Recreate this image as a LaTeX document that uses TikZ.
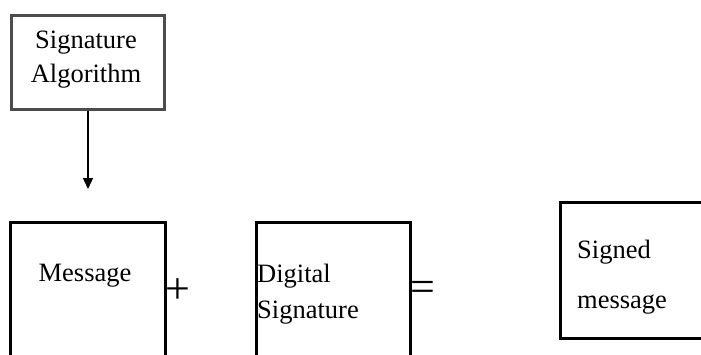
\documentclass[tikz,border=0pt]{standalone}
\usepackage{fontspec}
\setmainfont{Liberation Serif}
\usetikzlibrary{arrows.meta}
\begin{document}
\begin{tikzpicture}[x=1pt,y=-1pt,
  lbl/.style={inner sep=0pt,anchor=base west,font=\fontsize{26.5}{30}\selectfont},
  op/.style={inner sep=0pt,font=\fontsize{44}{46}\selectfont},
  box/.style={draw=black,line width=3pt},
  algbox/.style={draw=gray!60!black,line width=2.5pt}]
\useasboundingbox (0,0) rectangle (701,354);
\clip (0,0) rectangle (701,354);
% top box
\node[algbox,minimum width=153pt,minimum height=94pt,inner sep=0pt,anchor=north west] (alg) at (10,14) {};
\node[lbl,anchor=base] (t1) at (86,48) {Signature};
\node[lbl,anchor=base] (t2) at (86,82) {Algorithm};
\coordinate (tip) at (88,189);
\draw[line width=1.4pt,-{Triangle[length=11pt,width=10pt]}] (alg.south -| tip) -- (tip);
% message box
\draw[box] (10,380) -- (10,222) -- (165,222) -- (165,380);
\node[lbl,anchor=base] (msg) at (85,281) {Message};
\node[op] (plus) at (177.5,291) {+};
% digital signature
\draw[box] (256,380) -- (256,222) -- (410,222) -- (410,380);
\node[lbl] (d1) at (257,282) {Digital};
\node[lbl] (d2) at (257,318) {Signature};
\node[op] (eq) at (423,291) {=};
% signed message
\draw[box] (720,202) -- (560,202) -- (560,338) -- (720,338);
\node[lbl] (s1) at (577,258) {Signed};
\node[lbl] (s2) at (577,308) {message};
\end{tikzpicture}
\end{document}
